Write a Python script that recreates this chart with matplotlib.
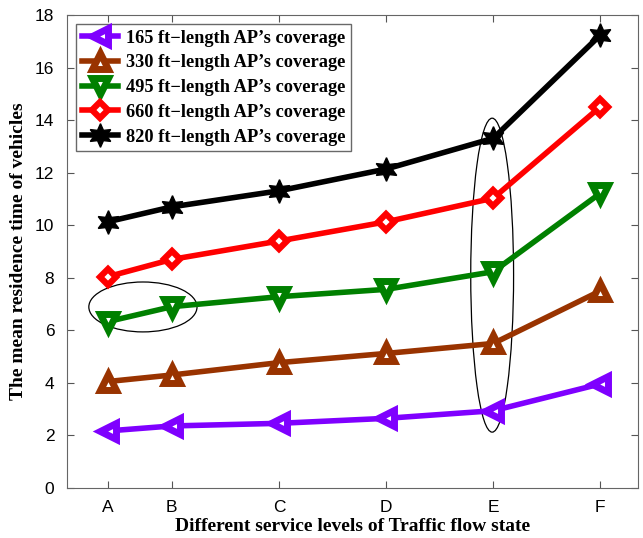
import matplotlib.pyplot as plt
from matplotlib.patches import Ellipse

# service levels (uneven spacing as in the original)
levels = ["A", "B", "C", "D", "E", "F"]
xpos = [1, 1.6, 2.6, 3.6, 4.6, 5.6]

cov165 = [2.17, 2.36, 2.46, 2.65, 2.94, 3.96]
cov330 = [4.05, 4.30, 4.77, 5.12, 5.50, 7.50]
cov495 = [6.33, 6.90, 7.28, 7.56, 8.23, 11.22]
cov660 = [8.04, 8.70, 9.40, 10.13, 11.03, 14.51]
cov820 = [10.13, 10.70, 11.31, 12.14, 13.31, 17.24]

labels = ["165 ft\u2212length AP\u2019s coverage",
          "330 ft\u2212length AP\u2019s coverage",
          "495 ft\u2212length AP\u2019s coverage",
          "660 ft\u2212length AP\u2019s coverage",
          "820 ft\u2212length AP\u2019s coverage"]

fig = plt.figure(figsize=(6.43, 5.38), dpi=100)
ax = fig.add_axes([0.104, 0.093, 0.888, 0.879])

ax.plot(xpos, cov165, color="#7f00ff", lw=4, marker="<", ms=11, mfc="white", mew=5, label=labels[0])
ax.plot(xpos, cov330, color="#993300", lw=4, marker="^", ms=11, mfc="white", mew=5, label=labels[1])
ax.plot(xpos, cov495, color="#008000", lw=4, marker="v", ms=11, mfc="white", mew=5, label=labels[2])
ax.plot(xpos, cov660, color="#ff0000", lw=4, marker="D", ms=8, mfc="white", mew=4.5, label=labels[3])
ax.plot(xpos, cov820, color="black", lw=4, marker=(6, 1, 0), ms=17, mfc="black", mew=1, label=labels[4])

# highlight ellipses
ax.add_patch(Ellipse((1.33, 6.89), 1.01, 1.9, fill=False, ec="black", lw=0.9))
ax.add_patch(Ellipse((4.59, 8.1), 0.40, 11.95, fill=False, ec="black", lw=0.9))

ax.set_xlim(0.62, 5.95)
ax.set_ylim(0, 18)
ax.set_xticks(xpos)
ax.set_xticklabels(levels)
ax.set_yticks(range(0, 19, 2))
ax.tick_params(direction="in", top=True, right=True, labelsize=12.5, color="#555555", length=5, pad=9)
for lab in ax.get_xticklabels() + ax.get_yticklabels():
    lab.set_fontfamily("Liberation Sans")
for s in ax.spines.values():
    s.set_color("#666666")

ax.set_xlabel("Different service levels of Traffic flow state", fontfamily="Liberation Serif",
              fontweight="bold", fontsize=14, labelpad=2)
ax.set_ylabel("The mean residence time of vehicles", fontfamily="Liberation Serif",
              fontweight="bold", fontsize=14, labelpad=6)

leg = ax.legend(loc="upper left", prop={"family": "Liberation Serif", "weight": "bold", "size": 13.2},
                fancybox=False, edgecolor="#444444", borderaxespad=0.5, handlelength=2.0,
                labelspacing=0.42, borderpad=0.3, handletextpad=0.4)
leg.get_frame().set_linewidth(1)

fig.savefig("out.png", dpi=100)
